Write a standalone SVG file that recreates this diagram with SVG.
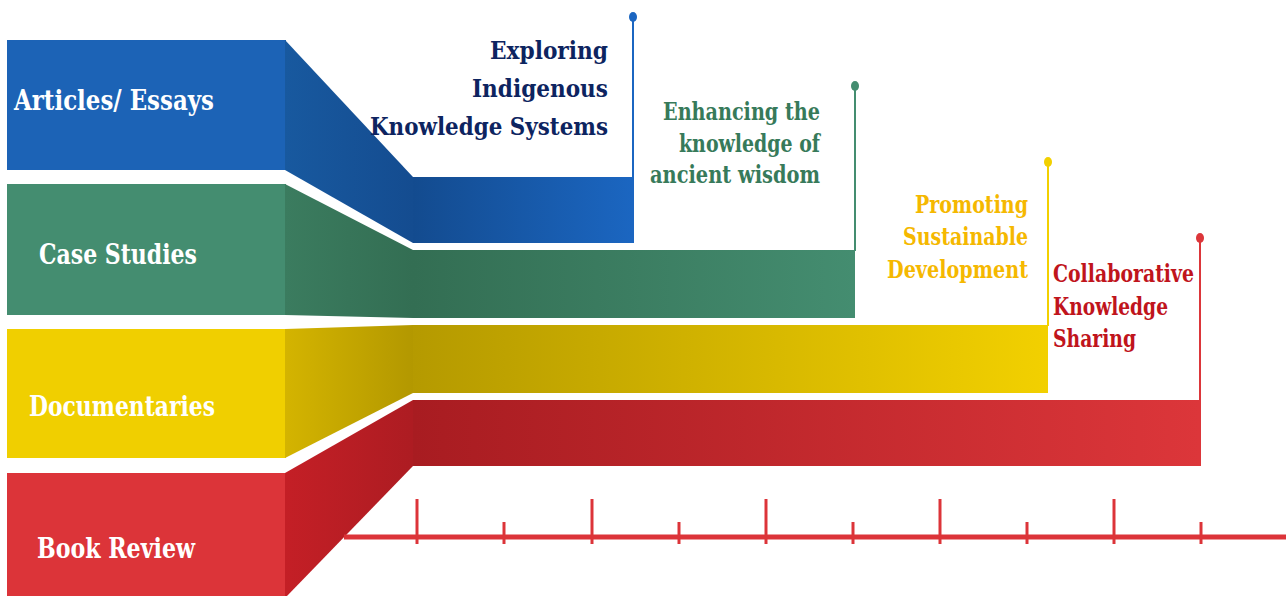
<svg xmlns="http://www.w3.org/2000/svg" width="1286" height="596" viewBox="0 0 1286 596">
<defs>
<style>
.lbl{font-family:"DejaVu Serif","Liberation Serif",serif;font-weight:bold;font-size:28px;fill:#fff}
.cap{font-family:"DejaVu Serif","Liberation Serif",serif;font-weight:bold;font-size:24px}
.pin{stroke-width:2;fill:none}
.tick{stroke:#dc3439;stroke-width:3}
</style>
<linearGradient id="gBlue" x1="413" y1="0" x2="633" y2="0" gradientUnits="userSpaceOnUse"><stop offset="0" stop-color="#134b8f"/><stop offset="1" stop-color="#1b66c1"/></linearGradient>
<linearGradient id="gBlueS" x1="285" y1="0" x2="413" y2="0" gradientUnits="userSpaceOnUse"><stop offset="0" stop-color="#18599f"/><stop offset="1" stop-color="#144c90"/></linearGradient>
<linearGradient id="gGreen" x1="413" y1="0" x2="855" y2="0" gradientUnits="userSpaceOnUse"><stop offset="0" stop-color="#336e53"/><stop offset="1" stop-color="#448d70"/></linearGradient>
<linearGradient id="gGreenS" x1="285" y1="0" x2="413" y2="0" gradientUnits="userSpaceOnUse"><stop offset="0" stop-color="#3b7c5f"/><stop offset="1" stop-color="#336e53"/></linearGradient>
<linearGradient id="gYel" x1="413" y1="0" x2="1048" y2="0" gradientUnits="userSpaceOnUse"><stop offset="0" stop-color="#b59a00"/><stop offset="1" stop-color="#f2d000"/></linearGradient>
<linearGradient id="gYelS" x1="285" y1="0" x2="413" y2="0" gradientUnits="userSpaceOnUse"><stop offset="0" stop-color="#d4b400"/><stop offset="1" stop-color="#b39800"/></linearGradient>
<linearGradient id="gRed" x1="413" y1="0" x2="1200" y2="0" gradientUnits="userSpaceOnUse"><stop offset="0" stop-color="#a81c21"/><stop offset="1" stop-color="#dc363a"/></linearGradient>
<linearGradient id="gRedS" x1="285" y1="0" x2="413" y2="0" gradientUnits="userSpaceOnUse"><stop offset="0" stop-color="#c41f26"/><stop offset="1" stop-color="#ad1c22"/></linearGradient>
</defs>
<rect width="1286" height="596" fill="#fff"/>

<g id="band-articles">
<rect x="7" y="40" width="279" height="130" fill="#1c63b6"/>
<polygon points="285,40 413,177 413,243 285,170" fill="url(#gBlueS)"/>
<rect x="413" y="177" width="221" height="66" fill="url(#gBlue)"/>
<text class="lbl" x="14" y="110" textLength="200" lengthAdjust="spacingAndGlyphs">Articles/ Essays</text>
</g>

<g id="band-case">
<rect x="7" y="184" width="279" height="131" fill="#448d70"/>
<polygon points="285,184 413,250 413,318 285,315" fill="url(#gGreenS)"/>
<rect x="413" y="250" width="442" height="68" fill="url(#gGreen)"/>
<text class="lbl" x="39" y="264" textLength="158" lengthAdjust="spacingAndGlyphs">Case Studies</text>
</g>

<g id="band-docs">
<rect x="7" y="329" width="279" height="129" fill="#f0cf00"/>
<polygon points="285,329 413,325 413,393 285,458" fill="url(#gYelS)"/>
<rect x="413" y="325" width="635" height="68" fill="url(#gYel)"/>
<text class="lbl" x="29" y="416" textLength="186" lengthAdjust="spacingAndGlyphs">Documentaries</text>
</g>

<g id="band-book">
<rect x="7" y="473" width="279" height="123" fill="#dc3439"/>
<polygon points="285,473 413,400 413,466 287,596 285,596" fill="url(#gRedS)"/>
<rect x="413" y="400" width="787" height="66" fill="url(#gRed)"/>
<text class="lbl" x="37" y="558" textLength="158" lengthAdjust="spacingAndGlyphs">Book Review</text>
</g>

<g id="goal-exploring" class="cap" fill="#0d2460" font-size="27">
<text x="490" y="59" textLength="118" lengthAdjust="spacingAndGlyphs">Exploring</text>
<text x="472" y="97" textLength="136" lengthAdjust="spacingAndGlyphs">Indigenous</text>
<text x="370" y="135" textLength="238" lengthAdjust="spacingAndGlyphs">Knowledge Systems</text>
</g>

<g id="goal-enhancing" class="cap" fill="#377a5a">
<text x="663" y="120" textLength="157" lengthAdjust="spacingAndGlyphs">Enhancing the</text>
<text x="679" y="152" textLength="141" lengthAdjust="spacingAndGlyphs">knowledge of</text>
<text x="650" y="183" textLength="170" lengthAdjust="spacingAndGlyphs">ancient wisdom</text>
</g>

<g id="goal-promoting" class="cap" fill="#f5b800">
<text x="915" y="213" textLength="113" lengthAdjust="spacingAndGlyphs">Promoting</text>
<text x="903" y="245" textLength="125" lengthAdjust="spacingAndGlyphs">Sustainable</text>
<text x="887" y="278" textLength="141" lengthAdjust="spacingAndGlyphs">Development</text>
</g>

<g id="goal-collaborative" class="cap" fill="#c0141c">
<text x="1053" y="282" textLength="141" lengthAdjust="spacingAndGlyphs">Collaborative</text>
<text x="1053" y="315" textLength="115" lengthAdjust="spacingAndGlyphs">Knowledge</text>
<text x="1053" y="347" textLength="83" lengthAdjust="spacingAndGlyphs">Sharing</text>
</g>

<g id="connectors">
<line class="pin" x1="633" y1="17" x2="633" y2="178" stroke="#1b66c1"/>
<ellipse cx="633" cy="17" rx="4" ry="5" fill="#1b66c1"/>
<line class="pin" x1="855" y1="86" x2="855" y2="251" stroke="#448d70"/>
<ellipse cx="855" cy="86" rx="4" ry="5" fill="#448d70"/>
<line class="pin" x1="1048" y1="162" x2="1048" y2="326" stroke="#f2d000"/>
<ellipse cx="1048" cy="162" rx="4" ry="5" fill="#f2d000"/>
<line class="pin" x1="1200" y1="238" x2="1200" y2="466" stroke="#dc363a"/>
<ellipse cx="1200" cy="238" rx="4" ry="5" fill="#dc363a"/>
<line x1="344" y1="537" x2="1286" y2="537" stroke="#dc3439" stroke-width="5"/>
<line class="tick" x1="417" y1="499" x2="417" y2="544"/>
<line class="tick" x1="504" y1="522" x2="504" y2="544"/>
<line class="tick" x1="592" y1="499" x2="592" y2="544"/>
<line class="tick" x1="679" y1="522" x2="679" y2="544"/>
<line class="tick" x1="766" y1="499" x2="766" y2="544"/>
<line class="tick" x1="853" y1="522" x2="853" y2="544"/>
<line class="tick" x1="940" y1="499" x2="940" y2="544"/>
<line class="tick" x1="1027" y1="522" x2="1027" y2="544"/>
<line class="tick" x1="1114" y1="499" x2="1114" y2="544"/>
<line class="tick" x1="1201" y1="522" x2="1201" y2="544"/>
</g>
</svg>
